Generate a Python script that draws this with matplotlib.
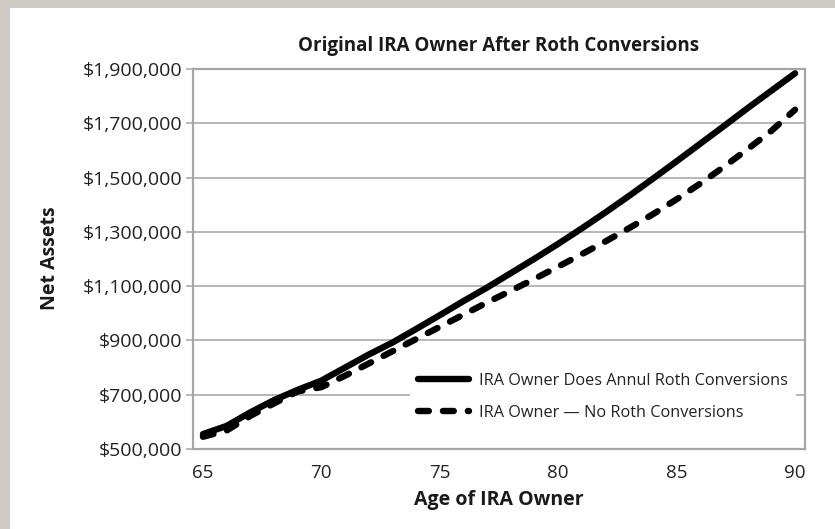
import matplotlib
matplotlib.use("Agg")
import matplotlib.pyplot as plt
from matplotlib.patches import Rectangle
from matplotlib.ticker import FuncFormatter

ages = list(range(65, 91))
with_conversions = [555000, 585000, 635000, 680000, 718000, 752000, 800000, 848000,
                    892000, 942000, 993000, 1045000, 1095000, 1148000, 1201000,
                    1256000, 1313000, 1372000, 1433000, 1496000, 1560000, 1625000,
                    1690000, 1756000, 1820000, 1884000]
no_conversions = [545000, 568000, 622000, 668000, 712000, 728000, 770000, 815000,
                  860000, 905000, 950000, 995000, 1040000, 1083000, 1127000,
                  1172000, 1218000, 1265000, 1314000, 1365000, 1420000, 1478000,
                  1540000, 1605000, 1672000, 1750000]
series_labels = ["IRA Owner Does Annul Roth Conversions", "IRA Owner \u2014 No Roth Conversions"]
x_ticks = [65, 70, 75, 80, 85, 90]
y_ticks = [500000, 700000, 900000, 1100000, 1300000, 1500000, 1700000, 1900000]
title = "Original IRA Owner After Roth Conversions"
x_label = "Age of IRA Owner"
y_label = "Net Assets"

W, H = 835, 529
plt.rcParams['font.family'] = ['Open Sans', 'DejaVu Sans']
fig = plt.figure(figsize=(W / 100, H / 100), dpi=100)
fig.patch.set_facecolor('#cfcbc4')
fig.add_artist(Rectangle((10 / W, 0), 1 - 10 / W, 1 - 8 / H, transform=fig.transFigure,
                         facecolor='white', edgecolor='none', zorder=0))

L, R, T, B = 193, 805, 69, 449
ax = fig.add_axes([L / W, 1 - B / H, (R - L) / W, (B - T) / H])
ax.set_facecolor('white')

ax.plot(ages, with_conversions, color='black', lw=4.6, solid_capstyle='round',
        solid_joinstyle='round', label=series_labels[0], zorder=3)
ax.plot(ages, no_conversions, color='black', lw=4.6, dash_capstyle='round',
        linestyle=(0, (1.7, 2.2)), label=series_labels[1], zorder=3)

ax.set_xlim(64.58, 90.42)
ax.set_ylim(500000, 1900000)
ax.set_xticks(x_ticks)
ax.set_yticks(y_ticks)
ax.yaxis.set_major_formatter(FuncFormatter(lambda v, p: "${:,.0f}".format(v)))
ax.grid(axis='y', color='#a3a3a3', lw=1.1, zorder=1)
ax.set_axisbelow(True)
for s in ax.spines.values():
    s.set_color('#a6a6a6')
    s.set_linewidth(1.6)
ax.tick_params(axis='x', length=0, pad=11, labelsize=13.5, colors='#222222')
ax.tick_params(axis='y', length=5, width=1.1, color='#a6a6a6', pad=3, labelsize=14,
               labelcolor='#222222')

ax.set_title(title, fontsize=13.5, fontweight='bold', pad=13, color='#1a1a1a')
ax.set_xlabel(x_label, fontsize=14, fontweight='bold', color='#1a1a1a')
ax.set_ylabel(y_label, fontsize=14, fontweight='bold', color='#1a1a1a')
ax.xaxis.set_label_coords((499 - L) / (R - L), -(500 - B) / (B - T), transform=ax.transAxes)
ax.yaxis.set_label_coords(-(L - 50) / (R - L), (B - 258) / (B - T), transform=ax.transAxes)
ax.xaxis.label.set_va('center')
ax.yaxis.label.set_va('center')

leg = ax.legend(loc='upper left', bbox_to_anchor=((410 - L) / (R - L), (B - 365) / (B - T)),
                borderaxespad=0, frameon=True, facecolor='white', edgecolor='none',
                framealpha=1, fancybox=False, fontsize=11.7, handlelength=3.1,
                handletextpad=0.65, labelspacing=0.98, borderpad=0.5)
leg.set_zorder(2)
for t in leg.get_texts():
    t.set_color('#222222')

fig.savefig('out.png', dpi=100, facecolor=fig.get_facecolor())
